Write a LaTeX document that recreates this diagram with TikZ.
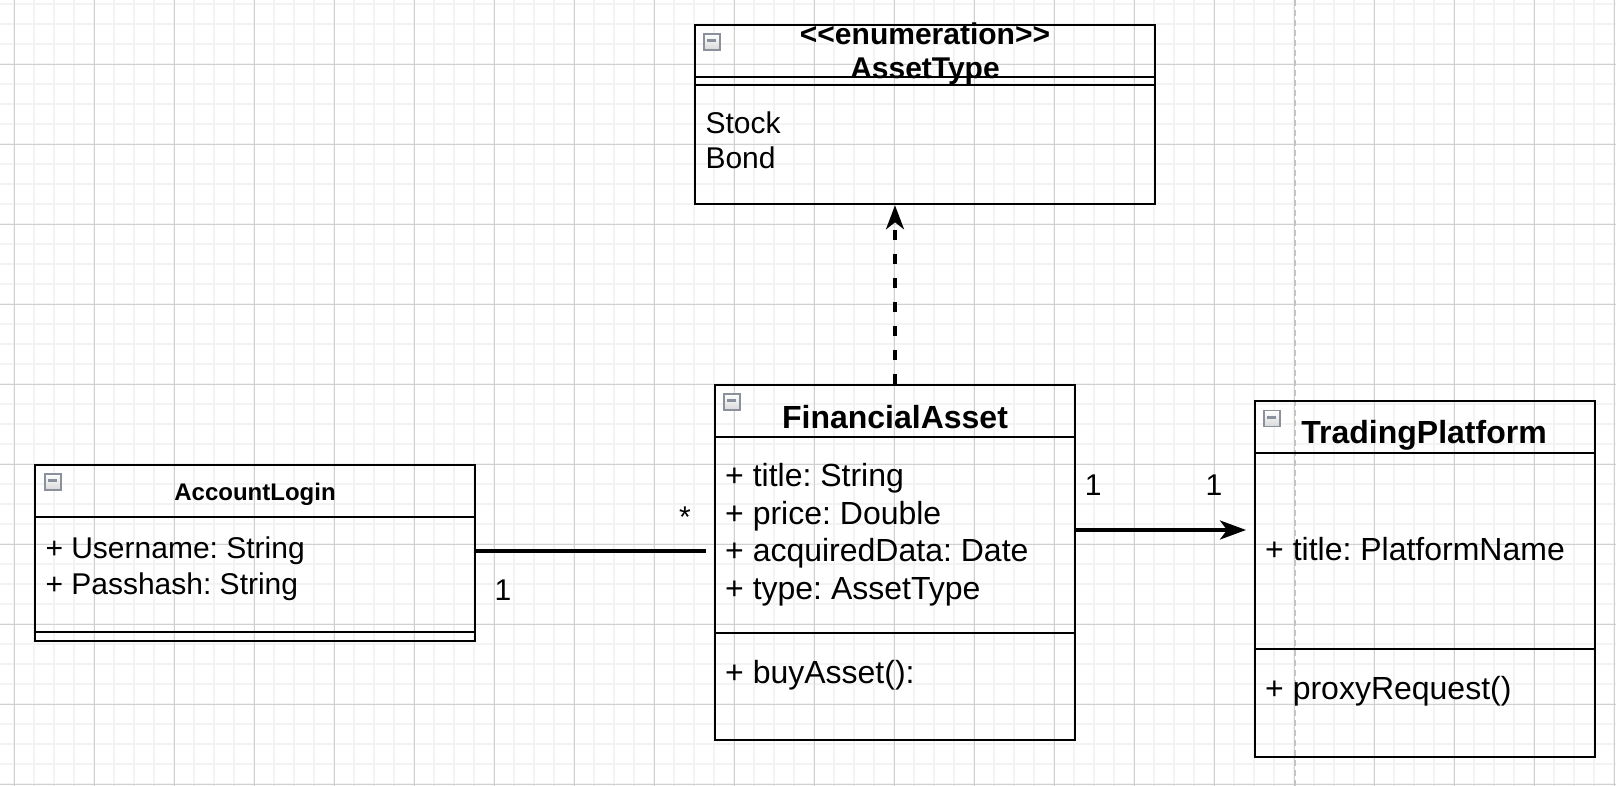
\documentclass[tikz,border=0pt]{standalone}
\usepackage{fontspec}
\setmainfont{Liberation Sans}
\usetikzlibrary{arrows.meta, positioning}
\frenchspacing

\definecolor{gridfine}{HTML}{F3F3F3}
\definecolor{gridbold}{HTML}{D0D0D0}
\definecolor{pagebreak}{HTML}{C4C4C4}
\definecolor{iconedge}{HTML}{8A909C}

\begin{document}
\begin{tikzpicture}[x=1pt, y=-1pt,
    classbox/.style={draw, line width=2pt, inner sep=0pt},
    rule/.style={line width=2pt},
    icon/.style={draw=iconedge, line width=1.8pt, top color=white, bottom color=gray!30,
        minimum size=16pt, inner sep=0pt,
        path picture={\draw[line width=3pt]
            ([xshift=3.5pt, yshift=1pt]path picture bounding box.west) --
            ([xshift=-3.5pt, yshift=1pt]path picture bounding box.east);}},
    head/.style={font=\fontsize{32}{37}\bfseries\selectfont, anchor=base, inner sep=0pt},
    headsmall/.style={font=\fontsize{30}{35}\bfseries\selectfont, anchor=base, inner sep=0pt},
    entry/.style={font=\fontsize{32}{37}\selectfont, anchor=base west, inner sep=0pt},
    entrysmall/.style={font=\fontsize{30}{35}\selectfont, anchor=base west, inner sep=0pt},
    mult/.style={font=\fontsize{30}{35}\selectfont, anchor=base, inner sep=0pt},
    assoc/.style={line width=3.3pt},
    dep/.style={line width=3.3pt, dash pattern=on 10pt off 14pt,
        -{Stealth[length=24pt, width=18pt, inset=7pt]}}]
    % background grid
    \fill[white] (0,0) rectangle (1616,786);
    \useasboundingbox (0,0) rectangle (1616,786);
    \foreach \x in {14.3,34.3,...,1616} \draw[gridfine, line width=1.7pt] (\x,0) -- (\x,786);
    \foreach \y in {4.3,24.3,...,786} \draw[gridfine, line width=1.7pt] (0,\y) -- (1616,\y);
    \foreach \x in {14.3,94.3,...,1616} \draw[gridbold, line width=0.8pt] (\x,0) -- (\x,786);
    \foreach \y in {-15.7,64.3,...,786} \draw[gridbold, line width=0.8pt] (0,\y) -- (1616,\y);
    \draw[pagebreak, line width=1.6pt, dash pattern=on 6pt off 4pt] (1295,0) -- (1295,786);

    % AssetType
    \node[classbox, minimum width=460pt, minimum height=179.3pt] (enum) at (925,114.65) {};
    \draw[rule] (enum.west |- 0,76.7) -- (enum.east |- 0,76.7);
    \draw[rule] (enum.west |- 0,84.7) -- (enum.east |- 0,84.7);
    \node[icon, below right=9pt and 9pt of enum.north west] (enumI) {};
    \node[headsmall] (enumS) at (925,45) {<\kern0pt<enumeration>\kern0pt>};
    \node[headsmall] (enumT) at (925,79) {AssetType};
    \node[entrysmall] (enumA1) at (705.3,133.3) {Stock};
    \node[entrysmall] (enumA2) at (705.3,168.3) {Bond};

    % AccountLogin
    \node[classbox, minimum width=440pt, minimum height=176pt] (login) at (255,553) {};
    \draw[rule] (login.west |- 0,516.7) -- (login.east |- 0,516.7);
    \draw[rule] (login.west |- 0,632) -- (login.east |- 0,632);
    \node[icon, below right=9pt and 10pt of login.north west] (loginI) {};
    \node[head, font=\fontsize{24}{28}\bfseries\selectfont] (loginT) at (255,500) {AccountLogin};
    \node[entrysmall] (loginA1) at (45.3,558.3) {+ Username: String};
    \node[entrysmall] (loginA2) at (45.3,594) {+ Passhash: String};

    % FinancialAsset
    \node[classbox, minimum width=360pt, minimum height=355pt] (asset) at (895,562.5) {};
    \draw[rule] (asset.west |- 0,436.7) -- (asset.east |- 0,436.7);
    \draw[rule] (asset.west |- 0,632.7) -- (asset.east |- 0,632.7);
    \node[icon, below right=9pt and 9pt of asset.north west] (assetI) {};
    \node[head] (assetT) at (895,428.3) {FinancialAsset};
    \foreach \txt [count=\i] in {+ title: String, + price: Double, + acquiredData: Date, + type: AssetType}
        \node[entry] (assetA\i) at (725,{486.7+37.5*(\i-1)}) {\txt};
    \node[entry] (assetM) at (725,683.3) {+ buyAsset():};

    % TradingPlatform
    \node[classbox, minimum width=340pt, minimum height=356pt] (platform) at (1425,579) {};
    \draw[rule] (platform.west |- 0,452.5) -- (platform.east |- 0,452.5);
    \draw[rule] (platform.west |- 0,648.7) -- (platform.east |- 0,648.7);
    \node[icon, below right=9.5pt and 9pt of platform.north west] (platformI) {};
    \node[head] (platformT) at (1424,443.3) {TradingPlatform};
    \node[entry] (platformA) at (1265,560) {+ title: PlatformName};
    \node[entry] (platformM) at (1265,699.3) {+ proxyRequest()};

    % connectors
    \draw[assoc, shorten >=8pt] (login.east |- 0,551) -- (asset.west |- 0,551);
    \draw[assoc, -{Stealth[length=26pt, width=19pt, inset=7pt]}, shorten >=8pt]
        (asset.east |- 0,530) -- (platform.west |- 0,530);
    \draw[dep] (asset.north) -- (asset.north |- enum.south);

    % multiplicities
    \node[mult] (loginMul) at (503,600.7) {1};
    \node[mult] (assetMulL) at (685,527) {*};
    \node[mult] (assetMulR) at (1093.3,495.7) {1};
    \node[mult] (platformMul) at (1214,495.7) {1};
\end{tikzpicture}
\end{document}
